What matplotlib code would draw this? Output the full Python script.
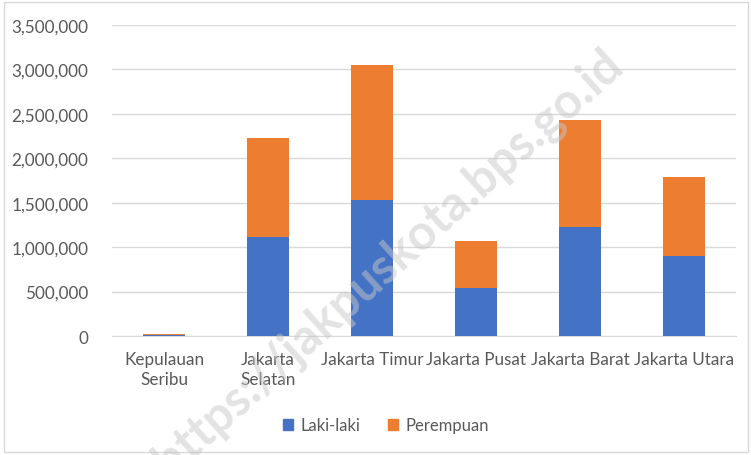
import matplotlib.pyplot as plt
import matplotlib.patches as mpatches
import numpy as np

# data
categories = ["Kepulauan\nSeribu", "Jakarta\nSelatan", "Jakarta Timur", "Jakarta Pusat",
              "Jakarta Barat", "Jakarta Utara"]
laki_laki = [12000, 1114000, 1531000, 540000, 1227000, 900000]
perempuan = [13000, 1114000, 1519000, 529000, 1204000, 889000]
series_names = ["Laki-laki", "Perempuan"]
y_ticks = [0, 500000, 1000000, 1500000, 2000000, 2500000, 3000000, 3500000]

blue = "#4472C4"
orange = "#ED7D31"
text_col = "#595959"
grid_col = "#D9D9D9"
font = ["Lato", "DejaVu Sans"]

plt.rcParams['font.family'] = font

fig = plt.figure(figsize=(7.51, 4.56), dpi=100)
ax = fig.add_axes([112 / 751, 1 - 337 / 456, 624 / 751, 311 / 456])

x = np.arange(len(categories))
ax.bar(x, laki_laki, width=0.4, color=blue, zorder=3)
ax.bar(x, perempuan, width=0.4, bottom=laki_laki, color=orange, zorder=3)

ax.set_xlim(-0.5, len(categories) - 0.5)
ax.set_ylim(0, 3500000)
ax.set_yticks(y_ticks)
ax.set_yticklabels([f"{v:,}" for v in y_ticks])
ax.set_xticks(x)
ax.set_xticklabels(categories, linespacing=1.25)
ax.grid(axis='y', color=grid_col, linewidth=1, zorder=0)
ax.tick_params(axis='both', length=0, labelsize=12.3, colors=text_col)
ax.tick_params(axis='y', pad=17)
ax.tick_params(axis='x', pad=11)
for s in ['top', 'right', 'left']:
    ax.spines[s].set_visible(False)
ax.spines['bottom'].set_color(grid_col)

# legend
handles = [mpatches.Patch(color=blue, label=series_names[0]),
           mpatches.Patch(color=orange, label=series_names[1])]
leg = fig.legend(handles=handles, loc='center', bbox_to_anchor=(386 / 751, 1 - 426 / 456),
                 ncol=2, frameon=False, fontsize=12, handlelength=0.65, handleheight=0.65,
                 handletextpad=0.45, columnspacing=1.6)
for t in leg.get_texts():
    t.set_color(text_col)

# watermark
fig.text(388 / 751, 1 - 262 / 456, "https://jakpuskota.bps.go.id", rotation=42,
         ha='center', va='center', fontsize=35, fontweight='bold', color='#C8C8C8',
         alpha=0.5, zorder=10)

# outer border
fig.patches.append(mpatches.Rectangle((4 / 751, 3 / 456), 744 / 751, 450 / 456,
                                      transform=fig.transFigure, fill=False,
                                      edgecolor=grid_col, linewidth=1))

plt.savefig('out.png', dpi=100)
